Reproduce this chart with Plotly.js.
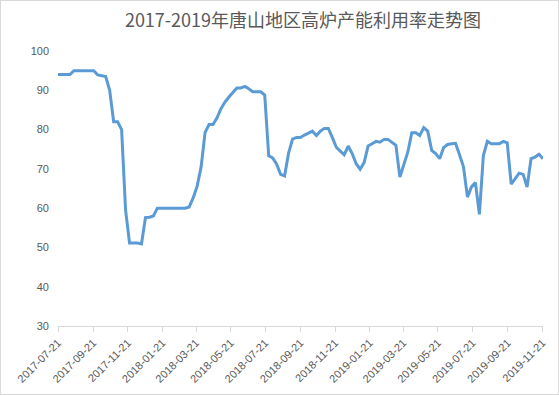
<!DOCTYPE html>
<html>
<head>
<meta charset="utf-8">
<script src="https://cdn.plot.ly/plotly-3.0.1.min.js"></script>
<style>
  html, body { margin: 0; padding: 0; background: #fff; }
  #wrap { position: relative; width: 559px; height: 395px; }
  #chart { position: absolute; left: 0; top: 0; width: 559px; height: 395px; }
  #frame { position: absolute; left: 0; top: 0; width: 559px; height: 395px; box-sizing: border-box; border: 1px solid #d9d9d9; pointer-events: none; }
</style>
</head>
<body>
<div id="wrap"><div id="chart"></div><div id="frame"></div></div>
<script>
// Weekly series start date (data are weekly observations)
const startDate = '2017-07-21';
// 高炉产能利用率 (%) weekly values
const utilization = [
  94.0, 94.0, 94.0, 94.0, 95.0, 95.0, 95.0, 95.0, 95.0, 95.0,
  93.9, 93.7, 93.5, 90.0, 82.0, 82.0, 80.0, 59.5, 51.1, 51.1,
  51.1, 50.9, 57.6, 57.7, 58.0, 60.0, 60.0, 60.0, 60.0, 60.0,
  60.0, 60.0, 60.0, 60.3, 62.6, 65.6, 70.5, 79.3, 81.3, 81.3,
  83.0, 85.3, 87.0, 88.3, 89.6, 90.6, 90.6, 91.0, 90.4, 89.6,
  89.6, 89.6, 88.8, 73.3, 72.8, 71.2, 68.6, 68.2, 74.0, 77.6,
  78.0, 78.0, 78.6, 79.2, 79.6, 78.5, 79.6, 80.3, 80.3, 78.0,
  75.5, 74.5, 73.6, 75.8, 73.9, 71.3, 69.9, 71.6, 75.8, 76.4,
  77.0, 76.8, 77.5, 77.5, 76.7, 76.0, 67.9, 71.3, 74.3, 79.2,
  79.2, 78.5, 80.5, 79.6, 74.7, 73.9, 72.6, 75.4, 76.2, 76.4,
  76.5, 73.6, 70.5, 62.8, 65.4, 66.5, 58.4, 73.4, 77.0, 76.4,
  76.4, 76.4, 77.0, 76.6, 66.1, 67.5, 68.9, 68.6, 65.4, 72.6,
  73.0, 73.7, 72.6
];
const axisStart = '2017-07-21';
const axisEnd = '2019-11-22';
const yTicks = [30, 40, 50, 60, 70, 80, 90, 100];
const chartTitle = '2017-2019年唐山地区高炉产能利用率走势图';

// weekly dates
const dates = [];
const d0 = new Date(startDate + 'T00:00:00Z');
for (let i = 0; i < utilization.length; i++) {
  const d = new Date(d0.getTime() + i * 7 * 86400000);
  dates.push(d.toISOString().slice(0, 10));
}

const trace = {
  x: dates,
  y: utilization,
  type: 'scatter',
  mode: 'lines',
  line: { color: '#5b9bd5', width: 3, shape: 'linear' },
  hoverinfo: 'x+y'
};

const layout = {
  width: 559,
  height: 395,
  margin: { l: 58, r: 16, t: 51, b: 69, pad: 0 },
  paper_bgcolor: '#ffffff',
  plot_bgcolor: '#ffffff',
  showlegend: false,
  title: {
    text: chartTitle,
    font: { family: '"Noto Sans CJK SC", sans-serif', size: 18, color: '#595959' },
    x: 0.542, xref: 'container', xanchor: 'center',
    y: 0.948, yref: 'container', yanchor: 'middle'
  },
  xaxis: {
    type: 'date',
    range: [axisStart, axisEnd],
    tick0: axisStart,
    dtick: 'M2',
    tickformat: '%Y-%m-%d',
    tickangle: -45,
    ticks: 'outside',
    ticklen: 5,
    tickcolor: '#d9d9d9',
    tickwidth: 1,
    showline: true,
    linecolor: '#d9d9d9',
    linewidth: 1,
    showgrid: false,
    zeroline: false,
    tickfont: { family: '"Liberation Sans", Arial, sans-serif', size: 11, color: '#595959' }
  },
  yaxis: {
    range: [30, 100],
    tickvals: yTicks,
    ticks: '',
    showline: false,
    showgrid: false,
    zeroline: false,
    ticklabelstandoff: 8,
    tickfont: { family: '"Liberation Sans", Arial, sans-serif', size: 11, color: '#595959' }
  }
};

Plotly.newPlot('chart', [trace], layout, { displayModeBar: false, staticPlot: true });
</script>
</body>
</html>
